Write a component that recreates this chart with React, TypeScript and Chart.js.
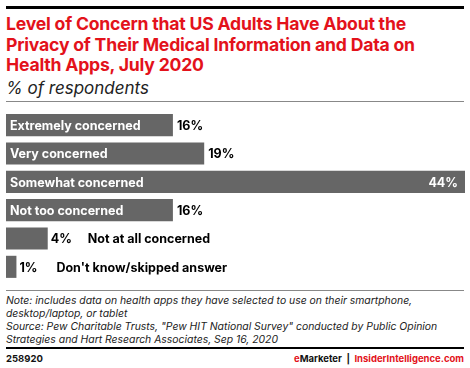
import React, { useEffect, useRef } from "react";
import { Chart, registerables } from "chart.js";
Chart.register(...registerables);

const categories = [
  "Extremely concerned",
  "Very concerned",
  "Somewhat concerned",
  "Not too concerned",
  "Not at all concerned",
  "Don't know/skipped answer",
];
const values = [16, 19, 44, 16, 4, 1];
const valueLabels = ["16%", "19%", "44%", "16%", "4%", "1%"];

const RED = "#e3121b";
const BAR = "#666666";
const FONT = "Inter, 'Open Sans', sans-serif";

const labelPlugin = {
  id: "barLabels",
  afterDatasetsDraw(chart: any) {
    const ctx = chart.ctx;
    const meta = chart.getDatasetMeta(0);
    ctx.save();
    ctx.font = `bold 12.5px ${FONT}`;
    ctx.textBaseline = "middle";
    meta.data.forEach((bar: any, i: number) => {
      const y = bar.y + 1;
      const left = bar.base;
      const right = bar.x;
      const catW = ctx.measureText(categories[i]).width;
      const width = right - left;
      if (catW + 12 < width) {
        ctx.fillStyle = "#ffffff";
        ctx.textAlign = "left";
        ctx.fillText(categories[i], left + 4, y);
        const valW = ctx.measureText(valueLabels[i]).width;
        if (catW + valW + 30 < width && i === 2) {
          ctx.textAlign = "right";
          ctx.fillText(valueLabels[i], right - 7, y);
        } else {
          ctx.fillStyle = "#000000";
          ctx.textAlign = "left";
          ctx.fillText(valueLabels[i], right + 4, y);
        }
      } else {
        ctx.fillStyle = "#000000";
        ctx.textAlign = "left";
        ctx.fillText(valueLabels[i], right + 3, y);
        ctx.fillText(categories[i], right + 40, y);
      }
    });
    ctx.restore();
  },
};

function BarChart() {
  const ref = useRef<HTMLCanvasElement>(null);
  useEffect(() => {
    if (!ref.current) return;
    const chart = new Chart(ref.current, {
      type: "bar",
      data: {
        labels: categories,
        datasets: [
          {
            data: values,
            backgroundColor: BAR,
            borderWidth: 0,
            barPercentage: 0.78,
            categoryPercentage: 1,
          },
        ],
      },
      options: {
        indexAxis: "y",
        animation: false,
        responsive: false,
        maintainAspectRatio: false,
        layout: { padding: { left: 6, right: 5, top: 6, bottom: 0 } },
        plugins: { legend: { display: false }, tooltip: { enabled: false } },
        scales: {
          x: { display: false, min: 0, max: 44 },
          y: { display: false },
        },
      },
      plugins: [labelPlugin],
    });
    return () => chart.destroy();
  }, []);
  return (
    <canvas
      ref={ref}
      width={470}
      height={176}
      style={{ position: "absolute", left: 0, top: 105, width: 470, height: 176 }}
    />
  );
}

export default function App() {
  return (
    <div
      style={{
        position: "fixed",
        left: 0,
        top: 0,
        width: 470,
        height: 368,
        background: "#fff",
        fontFamily: FONT,
        overflow: "hidden",
      }}
    >
      <div style={{ position: "absolute", left: 6, top: 6, width: 458, height: 3, background: "#000" }} />
      <div
        style={{
          position: "absolute",
          left: 6,
          top: 14,
          width: 462,
          color: RED,
          fontWeight: 700,
          fontSize: 17.6,
          lineHeight: "20.5px",
          letterSpacing: -0.2,
        }}
      >
        Level of Concern that US Adults Have About the Privacy of Their Medical Information and Data on
        Health Apps, July 2020
      </div>
      <div
        style={{
          position: "absolute",
          left: 6,
          top: 78,
          fontStyle: "italic",
          fontSize: 17,
          color: "#222",
        }}
      >
        % of respondents
      </div>
      <div style={{ position: "absolute", left: 6, top: 101, width: 458, height: 1, background: "#888" }} />
      <BarChart />
      <div style={{ position: "absolute", left: 6, top: 290, width: 458, height: 1, background: "#888" }} />
      <div
        style={{
          position: "absolute",
          left: 6,
          top: 294,
          width: 462,
          fontStyle: "italic",
          fontSize: 10.4,
          lineHeight: "13px",
          color: "#222",
          whiteSpace: "nowrap",
        }}
      >
        <div>Note: includes data on health apps they have selected to use on their smartphone,</div>
        <div>desktop/laptop, or tablet</div>
        <div>Source: Pew Charitable Trusts, "Pew HIT National Survey" conducted by Public Opinion</div>
        <div>Strategies and Hart Research Associates, Sep 16, 2020</div>
      </div>
      <div style={{ position: "absolute", left: 6, top: 347, width: 458, height: 2, background: "#000" }} />
      <div style={{ position: "absolute", left: 6, top: 353, fontSize: 9.5, fontWeight: 700, color: "#111" }}>
        258920
      </div>
      <div
        style={{
          position: "absolute",
          right: 6,
          top: 353,
          fontSize: 9.5,
          fontWeight: 700,
          color: "#111",
          whiteSpace: "nowrap",
        }}
      >
        <span style={{ color: RED }}>e</span>Marketer&nbsp;&nbsp;|&nbsp;&nbsp;
        <span style={{ color: RED }}>InsiderIntelligence.com</span>
      </div>
    </div>
  );
}
